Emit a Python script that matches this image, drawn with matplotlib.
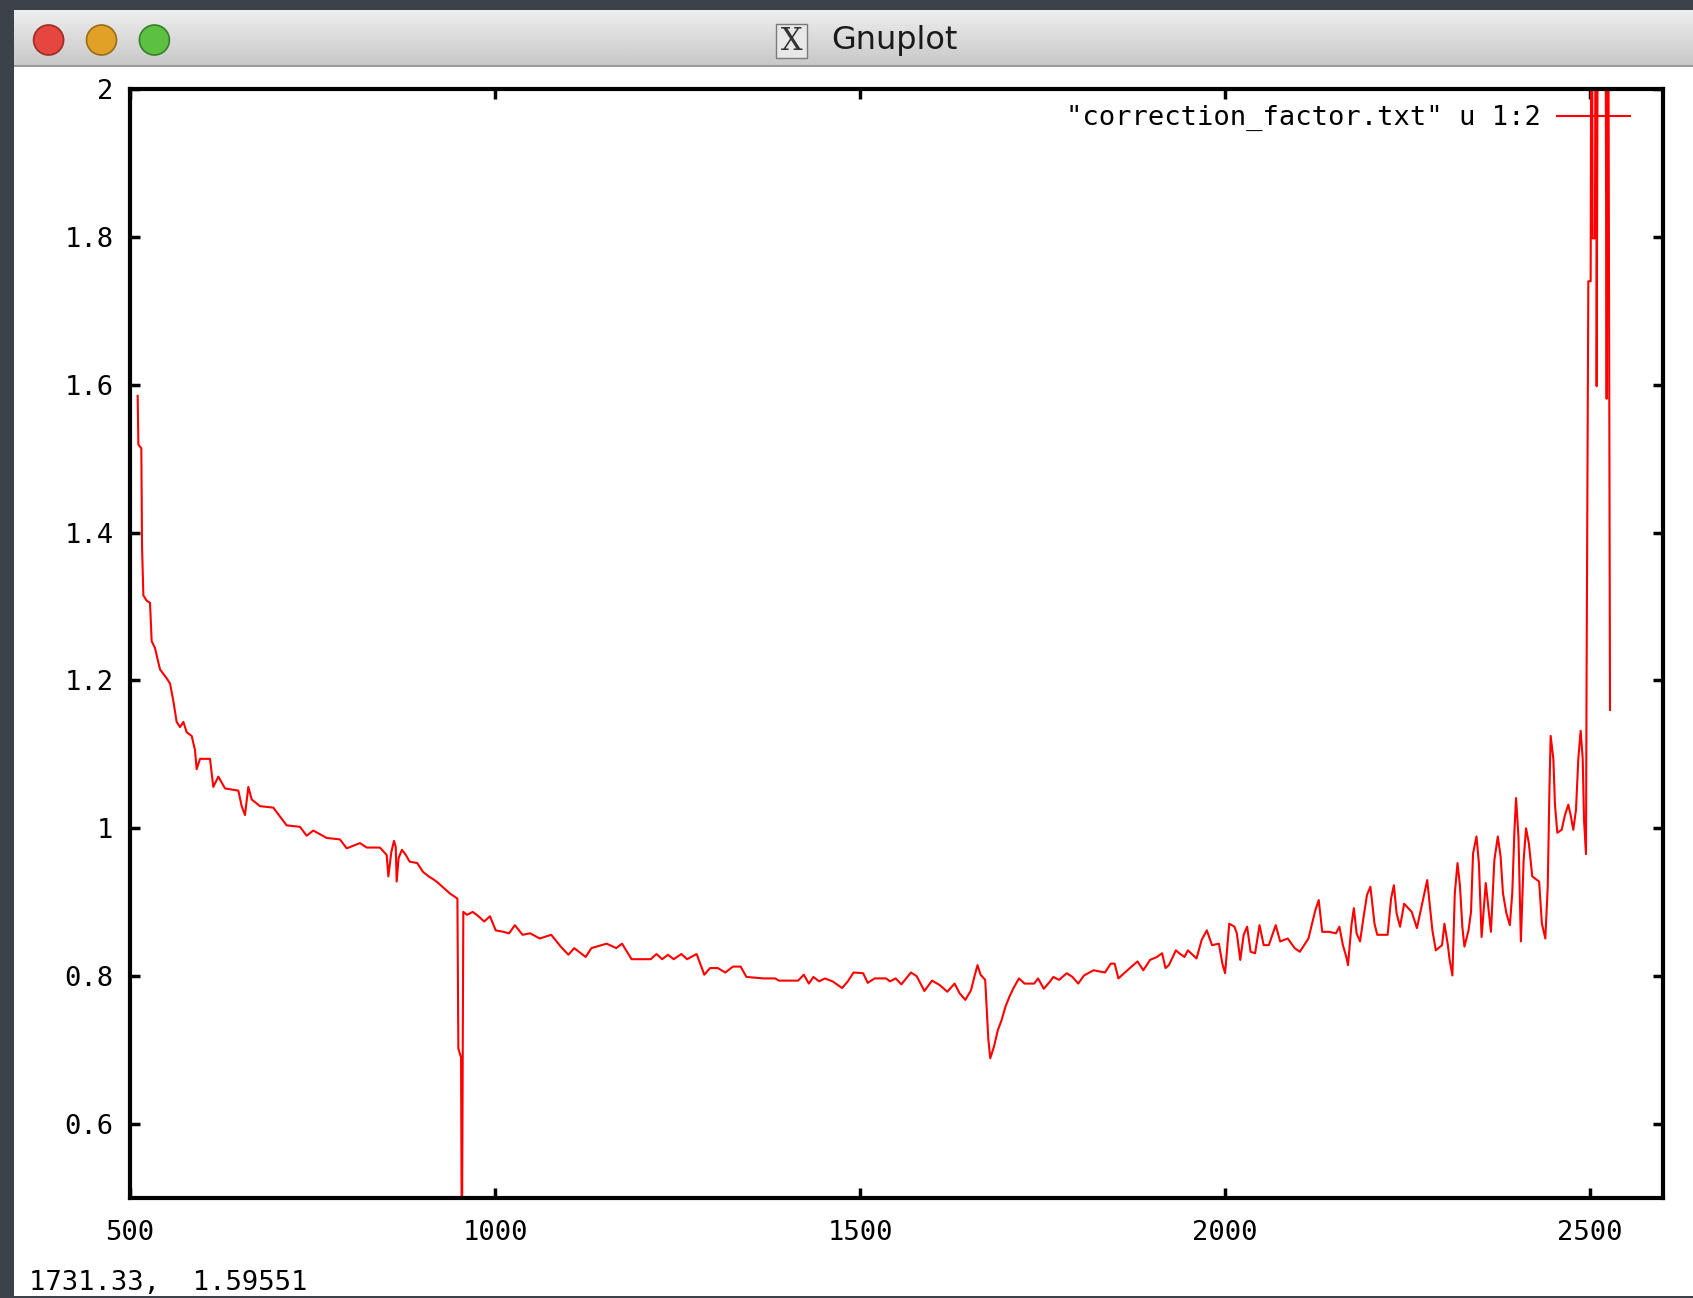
import numpy as np
import matplotlib.pyplot as plt
from matplotlib.patches import Rectangle, Circle
from matplotlib.transforms import IdentityTransform

# correction factor
wavelength = [
    510.5, 511.5, 515.5, 516.5, 518.3, 522.8, 527.4, 529.7, 534.2, 541.1,
    550.2, 554.8, 559.4, 563.9, 568.5, 573.1, 577.6, 584.5, 589.0, 591.3,
    595.9, 609.6, 614.1, 621.0, 630.1, 648.4, 653.0, 657.5, 662.1, 666.7,
    678.1, 696.3, 714.6, 732.9, 742.0, 751.1, 769.4, 787.6, 796.8, 815.0,
    824.2, 842.4, 851.6, 853.9, 858.0, 861.6, 864.0, 865.3, 868.0, 872.5,
    877.8, 883.0, 893.5, 901.4, 909.2, 917.1, 922.3, 930.2, 938.1, 948.5,
    949.8, 953.5, 954.6, 956.6, 961.7, 969.5, 977.4, 985.2, 993.1, 1001.0,
    1011.5, 1019.3, 1027.2, 1037.7, 1048.2, 1061.3, 1077.0, 1090.1, 1100.6, 1108.5,
    1124.2, 1132.1, 1153.0, 1166.1, 1174.0, 1187.1, 1213.3, 1221.2, 1229.0, 1236.9,
    1244.8, 1255.3, 1263.2, 1276.2, 1286.7, 1294.6, 1305.1, 1315.5, 1326.0, 1336.5,
    1344.4, 1368.0, 1383.7, 1389.0, 1415.2, 1423.0, 1429.9, 1436.1, 1444.0, 1451.9,
    1462.4, 1475.5, 1483.3, 1491.2, 1504.3, 1510.6, 1520.0, 1535.8, 1541.0, 1548.9,
    1556.7, 1569.8, 1577.7, 1588.2, 1598.7, 1609.2, 1619.6, 1623.3, 1629.6, 1636.4,
    1644.3, 1652.1, 1657.4, 1661.0, 1665.2, 1671.5, 1673.1, 1675.7, 1678.4, 1683.6,
    1688.8, 1694.1, 1699.3, 1704.6, 1709.8, 1717.7, 1725.5, 1738.6, 1743.9, 1751.8,
    1759.6, 1764.9, 1772.7, 1783.2, 1791.1, 1798.9, 1806.8, 1819.9, 1835.6, 1843.5,
    1848.8, 1854.0, 1861.9, 1869.7, 1880.2, 1888.1, 1897.3, 1906.7, 1913.8, 1918.5,
    1923.2, 1932.7, 1937.4, 1944.5, 1949.2, 1961.0, 1968.0, 1975.1, 1982.2, 1991.6,
    1996.4, 2000.1, 2005.8, 2012.9, 2016.2, 2020.9, 2025.6, 2030.3, 2035.1, 2041.2,
    2047.3, 2053.0, 2060.0, 2069.5, 2075.6, 2086.0, 2095.4, 2102.5, 2114.3, 2123.7,
    2128.4, 2133.2, 2142.6, 2152.0, 2156.7, 2161.5, 2166.2, 2168.5, 2173.2, 2176.5,
    2180.3, 2185.0, 2189.8, 2194.5, 2199.2, 2204.8, 2208.6, 2222.8, 2227.5, 2231.3,
    2235.1, 2239.8, 2245.4, 2255.8, 2262.9, 2270.0, 2277.0, 2284.1, 2288.8, 2297.3,
    2300.6, 2305.3, 2307.7, 2311.5, 2314.8, 2318.5, 2321.8, 2325.1, 2328.0, 2333.6,
    2337.0, 2339.8, 2344.5, 2347.8, 2351.5, 2357.2, 2364.3, 2369.0, 2373.7, 2377.5,
    2380.8, 2385.5, 2390.2, 2393.5, 2396.4, 2398.7, 2402.0, 2405.3, 2409.1, 2412.4,
    2416.2, 2420.9, 2430.3, 2434.1, 2438.8, 2442.1, 2444.5, 2446.1, 2449.8, 2452.0,
    2455.2, 2461.2, 2465.7, 2470.3, 2473.5, 2477.1, 2480.8, 2484.0, 2487.2, 2490.0,
    2491.8, 2494.5, 2495.4, 2497.7, 2500.9, 2502.3, 2503.6, 2506.8, 2508.2, 2509.1,
    2511.4, 2520.5, 2522.8, 2524.5, 2527.4,
]
factor = [
    1.585, 1.519, 1.514, 1.381, 1.315, 1.308, 1.305, 1.253, 1.244, 1.215,
    1.203, 1.196, 1.172, 1.144, 1.137, 1.144, 1.130, 1.125, 1.106, 1.080,
    1.094, 1.094, 1.056, 1.070, 1.054, 1.051, 1.030, 1.018, 1.056, 1.039,
    1.030, 1.028, 1.004, 1.002, 0.990, 0.997, 0.987, 0.985, 0.973, 0.980,
    0.974, 0.974, 0.964, 0.935, 0.968, 0.983, 0.975, 0.928, 0.960, 0.971,
    0.964, 0.955, 0.953, 0.941, 0.935, 0.930, 0.926, 0.919, 0.912, 0.905,
    0.702, 0.690, 0.400, 0.887, 0.883, 0.887, 0.881, 0.874, 0.881, 0.862,
    0.860, 0.858, 0.869, 0.856, 0.858, 0.851, 0.856, 0.840, 0.829, 0.838,
    0.826, 0.838, 0.844, 0.838, 0.844, 0.823, 0.823, 0.830, 0.823, 0.829,
    0.823, 0.830, 0.823, 0.830, 0.802, 0.811, 0.811, 0.805, 0.813, 0.813,
    0.799, 0.797, 0.797, 0.794, 0.794, 0.802, 0.790, 0.799, 0.793, 0.797,
    0.793, 0.784, 0.793, 0.805, 0.804, 0.791, 0.797, 0.797, 0.793, 0.797,
    0.789, 0.805, 0.800, 0.780, 0.794, 0.788, 0.779, 0.783, 0.790, 0.777,
    0.768, 0.781, 0.802, 0.815, 0.802, 0.795, 0.765, 0.716, 0.689, 0.705,
    0.727, 0.741, 0.759, 0.772, 0.783, 0.797, 0.790, 0.790, 0.797, 0.783,
    0.792, 0.799, 0.795, 0.804, 0.799, 0.790, 0.801, 0.808, 0.805, 0.817,
    0.817, 0.797, 0.804, 0.811, 0.820, 0.808, 0.822, 0.826, 0.831, 0.811,
    0.815, 0.835, 0.831, 0.826, 0.835, 0.824, 0.849, 0.862, 0.842, 0.844,
    0.817, 0.804, 0.871, 0.867, 0.858, 0.822, 0.856, 0.867, 0.833, 0.831,
    0.869, 0.842, 0.842, 0.869, 0.847, 0.851, 0.838, 0.833, 0.851, 0.889,
    0.903, 0.860, 0.860, 0.858, 0.867, 0.842, 0.826, 0.815, 0.869, 0.892,
    0.858, 0.847, 0.880, 0.910, 0.921, 0.871, 0.856, 0.856, 0.905, 0.923,
    0.885, 0.867, 0.898, 0.887, 0.865, 0.898, 0.930, 0.862, 0.835, 0.842,
    0.871, 0.842, 0.822, 0.801, 0.912, 0.953, 0.923, 0.867, 0.840, 0.862,
    0.887, 0.966, 0.989, 0.953, 0.853, 0.926, 0.860, 0.957, 0.989, 0.962,
    0.912, 0.885, 0.869, 0.912, 0.995, 1.041, 0.989, 0.847, 0.957, 1.000,
    0.980, 0.935, 0.928, 0.871, 0.851, 0.921, 1.056, 1.125, 1.094, 1.032,
    0.994, 0.998, 1.018, 1.032, 1.018, 0.998, 1.025, 1.094, 1.132, 1.094,
    1.012, 0.965, 1.225, 1.740, 1.740, 2.400, 1.798, 1.798, 2.400, 1.598,
    2.400, 2.400, 1.581, 2.400, 1.160,
]

xticks = [500, 1000, 1500, 2000, 2500]
yticks = [0.6, 0.8, 1.0, 1.2, 1.4, 1.6, 1.8, 2.0]
ytick_labels = ['0.6', '0.8', '1', '1.2', '1.4', '1.6', '1.8', '2']
legend_label = '"correction_factor.txt" u 1:2'
status_text = '1731.33,  1.59551'

W, H = 1693, 1298
mono = 'DejaVu Sans Mono'
fig = plt.figure(figsize=(W / 100, H / 100), dpi=100)
fig.patch.set_facecolor('#3d414a')

# window body and title bar (kept below the axes)
fig.patches.append(Rectangle((14 / W, 2 / H), 1, (H - 67 - 2) / H, zorder=-5,
                             transform=fig.transFigure, facecolor='white', edgecolor='none'))
bar = fig.add_axes([14 / W, 1 - 67 / H, 1 - 14 / W, 57 / H])
grad = np.linspace(0.93, 0.78, 50).reshape(-1, 1)
bar.imshow(grad, aspect='auto', cmap='gray', vmin=0, vmax=1, extent=[0, 1, 0, 1])
bar.axhline(0.01, color='#9a9a9a', lw=1.5)
bar.set_axis_off()

for cx, col, edge in [(48.6, '#e5463f', '#9c2a25'), (101.5, '#e0a126', '#9a6c14'),
                      (154.4, '#5cc143', '#33802a')]:
    fig.patches.append(Circle((cx, H - 40), 15, transform=IdentityTransform(),
                              facecolor=col, edgecolor=edge, lw=1.2, zorder=5))
fig.patches.append(Rectangle((776, H - 58), 31, 34, transform=IdentityTransform(),
                             facecolor='#e8e8e8', edgecolor='#7a7a7a', lw=1, zorder=5))
fig.text(791.5 / W, 1 - 41 / H, 'X', fontsize=22, family='DejaVu Serif',
         ha='center', va='center', color='#333333', zorder=6)
fig.text(894 / W, 1 - 40 / H, 'Gnuplot', fontsize=23, ha='center', va='center',
         color='#1a1a1a', zorder=6)

ax = fig.add_axes([130 / W, 1 - 1198 / H, (1663 - 130) / W, (1198 - 89) / H])
ax.plot(wavelength, factor, color='#ff0000', lw=1.5, label=legend_label)
ax.set_xlim(500, 2600)
ax.set_ylim(0.5, 2)
ax.set_xticks(xticks)
ax.set_yticks(yticks)
ax.set_yticklabels(ytick_labels)
for s in ax.spines.values():
    s.set_linewidth(3)
ax.tick_params(direction='in', length=7, width=2.5, top=True, right=True,
               labelsize=19.5, colors='black')
ax.tick_params(axis='x', pad=16)
ax.tick_params(axis='y', pad=12)
for lab in ax.get_xticklabels() + ax.get_yticklabels():
    lab.set_family(mono)

ax.legend(loc='upper right', bbox_to_anchor=(1 - 17 / 1533, 1), frameon=False,
          markerfirst=False, prop={'family': mono, 'size': 19.5}, handlelength=2.7,
          handletextpad=0.6, borderaxespad=0.3, borderpad=0.3)

fig.text(29 / W, (H - 1283) / H, status_text, family=mono, fontsize=19.5,
         ha='left', va='center', color='black')

fig.savefig('out.png', dpi=100, facecolor=fig.get_facecolor())
